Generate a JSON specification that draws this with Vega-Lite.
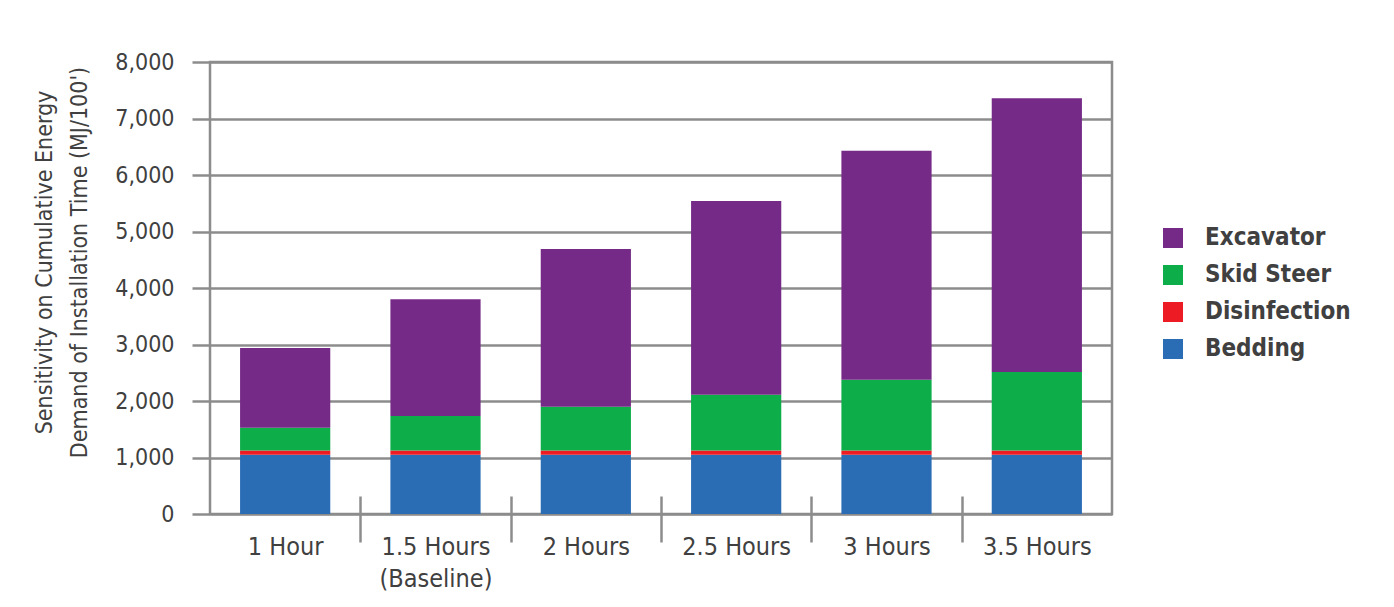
{
  "$schema": "https://vega.github.io/schema/vega-lite/v6.json",
  "width": 902,
  "height": 452,
  "autosize": {"type": "none"},
  "padding": {"left": 210, "top": 62, "right": 282, "bottom": 93},
  "background": "white",
  "config": {
    "font": "Liberation Sans Narrow, DejaVu Sans Condensed, sans-serif",
    "view": {"stroke": "#8c8c8c", "strokeWidth": 2.5}
  },
  "data": {
    "values": [
      {"time": "1 Hour", "component": "Bedding", "rank": 1, "value": 1050},
      {"time": "1 Hour", "component": "Disinfection", "rank": 2, "value": 75},
      {"time": "1 Hour", "component": "Skid Steer", "rank": 3, "value": 400},
      {"time": "1 Hour", "component": "Excavator", "rank": 4, "value": 1415},
      {"time": "1.5 Hours", "component": "Bedding", "rank": 1, "value": 1050},
      {"time": "1.5 Hours", "component": "Disinfection", "rank": 2, "value": 75},
      {"time": "1.5 Hours", "component": "Skid Steer", "rank": 3, "value": 610},
      {"time": "1.5 Hours", "component": "Excavator", "rank": 4, "value": 2065},
      {"time": "2 Hours", "component": "Bedding", "rank": 1, "value": 1050},
      {"time": "2 Hours", "component": "Disinfection", "rank": 2, "value": 75},
      {"time": "2 Hours", "component": "Skid Steer", "rank": 3, "value": 775},
      {"time": "2 Hours", "component": "Excavator", "rank": 4, "value": 2790},
      {"time": "2.5 Hours", "component": "Bedding", "rank": 1, "value": 1050},
      {"time": "2.5 Hours", "component": "Disinfection", "rank": 2, "value": 75},
      {"time": "2.5 Hours", "component": "Skid Steer", "rank": 3, "value": 985},
      {"time": "2.5 Hours", "component": "Excavator", "rank": 4, "value": 3430},
      {"time": "3 Hours", "component": "Bedding", "rank": 1, "value": 1050},
      {"time": "3 Hours", "component": "Disinfection", "rank": 2, "value": 75},
      {"time": "3 Hours", "component": "Skid Steer", "rank": 3, "value": 1250},
      {"time": "3 Hours", "component": "Excavator", "rank": 4, "value": 4055},
      {"time": "3.5 Hours", "component": "Bedding", "rank": 1, "value": 1050},
      {"time": "3.5 Hours", "component": "Disinfection", "rank": 2, "value": 75},
      {"time": "3.5 Hours", "component": "Skid Steer", "rank": 3, "value": 1390},
      {"time": "3.5 Hours", "component": "Excavator", "rank": 4, "value": 4845}
    ]
  },
  "mark": {"type": "bar", "width": {"band": 0.6}},
  "encoding": {
    "x": {
      "field": "time",
      "type": "nominal",
      "sort": null,
      "scale": {"paddingInner": 0, "paddingOuter": 0},
      "axis": {
        "title": null,
        "domain": false,
        "grid": false,
        "labelAngle": 0,
        "labelFontSize": 25,
        "labelColor": "#404040",
        "labelLineHeight": 32,
        "labelBaseline": "top",
        "labelExpr": "datum.value == '1.5 Hours' ? ['1.5 Hours', '(Baseline)'] : datum.value",
        "tickBand": "extent",
        "tickColor": "#8c8c8c",
        "tickWidth": 2.5,
        "tickSize": 46,
        "offset": -18,
        "labelPadding": -8,
        "tickOpacity": {"condition": {"test": "datum.index < 0 || datum.value == '3.5 Hours'", "value": 0}, "value": 1}
      }
    },
    "y": {
      "field": "value",
      "type": "quantitative",
      "stack": "zero",
      "scale": {"domain": [0, 8000], "nice": false},
      "axis": {
        "title": ["Sensitivity on Cumulative Energy", "Demand of Installation Time (MJ/100')"],
        "titleFontSize": 23,
        "titleFontWeight": "normal",
        "titleColor": "#404040",
        "titleLineHeight": 35,
        "titlePadding": 23,
        "titleY": 200,
        "values": [0, 1000, 2000, 3000, 4000, 5000, 6000, 7000, 8000],
        "format": ",d",
        "domain": false,
        "grid": true,
        "gridColor": "#8c8c8c",
        "gridWidth": 2.5,
        "tickColor": "#8c8c8c",
        "tickWidth": 2.5,
        "tickSize": 18,
        "labelFontSize": 23,
        "labelColor": "#404040",
        "labelPadding": 18
      }
    },
    "color": {
      "field": "component",
      "type": "nominal",
      "scale": {
        "domain": ["Excavator", "Skid Steer", "Disinfection", "Bedding"],
        "range": ["#762a87", "#0dad4a", "#ed1c24", "#2a6db5"]
      },
      "legend": {
        "title": null,
        "orient": "none",
        "legendX": 951,
        "legendY": 164,
        "symbolType": "square",
        "symbolSize": 400,
        "symbolStrokeWidth": 0,
        "labelFontSize": 24,
        "labelFontWeight": "bold",
        "labelColor": "#404040",
        "labelOffset": 20,
        "rowPadding": 13
      }
    },
    "order": {"field": "rank", "type": "quantitative", "sort": "ascending"}
  }
}
